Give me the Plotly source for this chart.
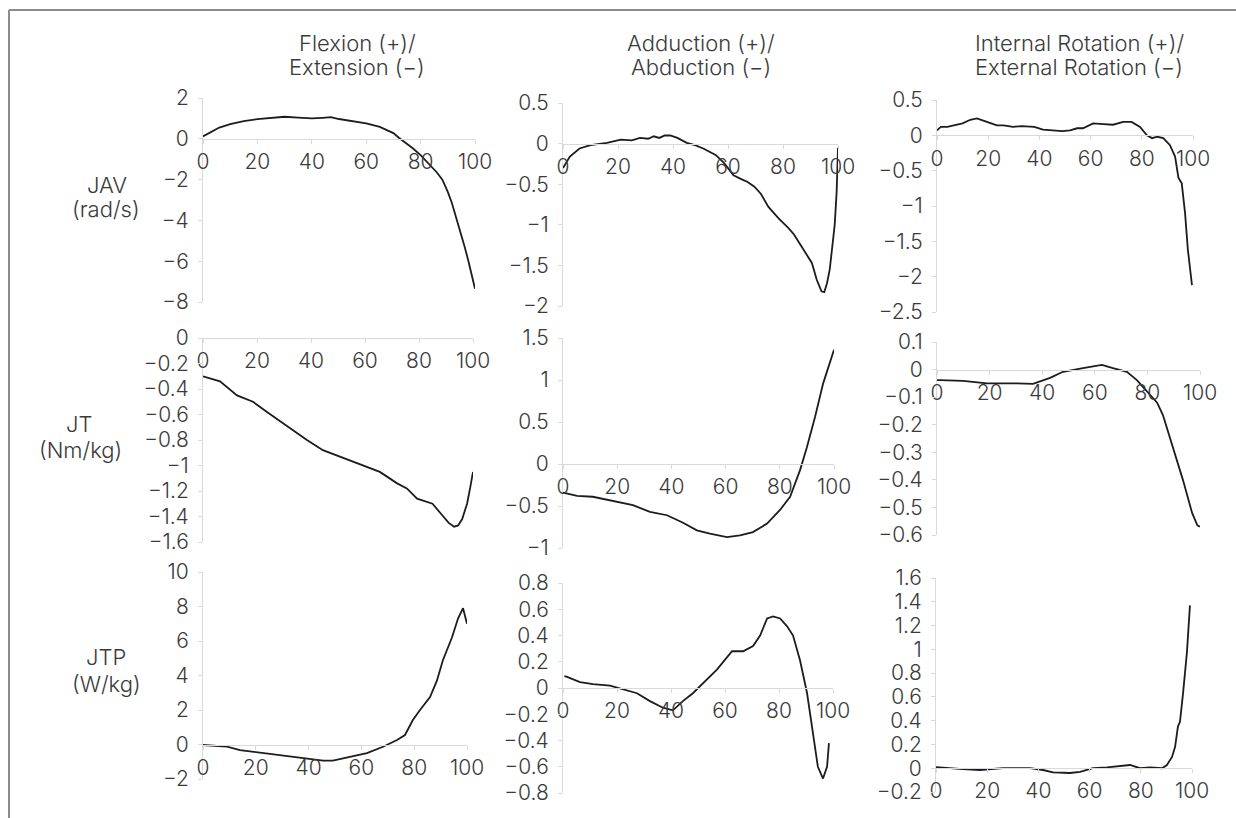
import plotly.graph_objects as go

W, H = 1236, 818

# ---------------- data ----------------
COL_TITLES = [["Flexion (+)/", "Extension (−)"],
              ["Adduction (+)/", "Abduction (−)"],
              ["Internal Rotation (+)/", "External Rotation (−)"]]
ROW_TITLES = [["JAV", "(rad/s)"], ["JT", "(Nm/kg)"], ["JTP", "(W/kg)"]]
X_TICKS = [0, 20, 40, 60, 80, 100]

# Row 1: joint angular velocity
JAV_FLEX_X = [0, 3, 6, 10, 15, 20, 25, 30, 35, 40, 44, 47, 50, 55, 60, 65, 70, 72, 75, 77, 80,
              83.5, 86, 88, 90, 91.5, 93, 94.5, 96, 97.5, 99, 100]
JAV_FLEX_Y = [0.12, 0.35, 0.55, 0.72, 0.87, 0.96, 1.02, 1.08, 1.04, 1.0, 1.03, 1.06, 0.97, 0.86,
              0.76, 0.58, 0.28, 0.05, -0.25, -0.45, -0.8, -1.28, -1.65, -2.0, -2.6, -3.15, -3.8,
              -4.5, -5.2, -5.95, -6.8, -7.35]

JAV_ADD_X = [0, 1, 2.5, 6, 10, 16, 21, 25, 28, 31, 33, 35, 37, 39, 41.6, 45, 48, 51, 55.5, 58.6,
             62, 65, 67, 69.6, 72, 74.7, 78.4, 82, 84, 86.8, 89, 90.5, 92.3, 94, 95, 96, 97,
             97.8, 98.8, 99.5, 100]
JAV_ADD_Y = [-0.3, -0.24, -0.16, -0.06, -0.02, 0.01, 0.05, 0.04, 0.07, 0.06, 0.09, 0.07, 0.1, 0.1,
             0.07, 0.01, -0.02, -0.06, -0.14, -0.24, -0.39, -0.44, -0.47, -0.53, -0.62, -0.78,
             -0.92, -1.04, -1.12, -1.27, -1.38, -1.47, -1.68, -1.82, -1.83, -1.72, -1.55, -1.31,
             -1.0, -0.6, -0.05]

JAV_IR_X = [0, 1.5, 4, 7.8, 10, 13, 15.6, 19.5, 23.4, 26, 29.7, 33, 36, 38, 41.4, 45, 49, 52,
            54.7, 57, 61, 65, 68.8, 72.7, 76, 79.3, 82, 84, 86, 88.4, 91, 93, 94.3, 95.6, 96.9,
            98, 99.6]
JAV_IR_Y = [0.07, 0.12, 0.12, 0.15, 0.17, 0.22, 0.24, 0.19, 0.14, 0.14, 0.12, 0.13, 0.12, 0.12,
            0.08, 0.07, 0.06, 0.07, 0.1, 0.1, 0.17, 0.16, 0.15, 0.19, 0.19, 0.12, 0.0, -0.04,
            -0.02, -0.04, -0.14, -0.3, -0.6, -0.68, -1.1, -1.62, -2.12]

# Row 2: joint torque
JT_FLEX_X = [0, 6.3, 12.6, 18.5, 23.7, 32.2, 38.5, 44.4, 48, 54.4, 60.7, 65.5, 71.9, 75.5, 79.3,
             85, 89, 91, 93, 94.5, 96, 97.8, 99, 100]
JT_FLEX_Y = [-0.30, -0.34, -0.45, -0.5, -0.58, -0.71, -0.8, -0.88, -0.91, -0.96, -1.01, -1.05,
             -1.14, -1.18, -1.26, -1.3, -1.4, -1.45, -1.48, -1.47, -1.42, -1.3, -1.17, -1.05]

JT_ADD_X = [0, 5.2, 11, 17.3, 25.8, 32.1, 38.4, 44.3, 49.4, 54.2, 60.5, 65.3, 70.1, 75.3, 80,
            83.8, 87.5, 90, 93, 96, 99.6, 100]
JT_ADD_Y = [-0.34, -0.38, -0.39, -0.43, -0.49, -0.57, -0.61, -0.7, -0.79, -0.83, -0.87, -0.85,
            -0.81, -0.71, -0.55, -0.39, -0.07, 0.2, 0.56, 0.96, 1.33, 1.36]

JT_IR_X = [0, 1.1, 9.9, 19, 30.4, 36.5, 43, 47.9, 55.5, 59.3, 62.7, 66.9, 72.2, 76, 79.8, 83.7,
           85.9, 89.7, 93.5, 97, 99, 100]
JT_IR_Y = [-0.038, -0.038, -0.041, -0.05, -0.05, -0.052, -0.03, -0.008, 0.005, 0.01, 0.017,
           0.005, -0.008, -0.038, -0.08, -0.12, -0.165, -0.28, -0.4, -0.52, -0.565, -0.57]

# Row 3: joint torque power
JTP_FLEX_X = [0, 9.1, 14, 22.7, 33, 40.5, 45.5, 49.2, 55.7, 62.1, 68.2, 73.5, 76.5, 79.5, 82.2,
              86, 88.6, 90.9, 94.3, 96.6, 98.5, 100]
JTP_FLEX_Y = [-0.03, -0.12, -0.32, -0.5, -0.7, -0.85, -0.94, -0.94, -0.7, -0.5, -0.13, 0.26,
              0.55, 1.42, 2.0, 2.75, 3.7, 4.9, 6.2, 7.3, 7.9, 7.0]

JTP_ADD_X = [0.5, 1.5, 6.3, 11.1, 17.4, 23.7, 27.4, 32.2, 37, 40.7, 44.4, 48.1, 51.9, 57, 62.6,
             66.7, 70.4, 73, 75.6, 77.8, 80.4, 83, 85.2, 87.8, 90.4, 92.6, 94.4, 96.3, 97.8, 98.5]
JTP_ADD_Y = [0.09, 0.085, 0.045, 0.03, 0.018, -0.015, -0.04, -0.1, -0.15, -0.17, -0.1, -0.04,
             0.04, 0.14, 0.28, 0.28, 0.32, 0.4, 0.53, 0.545, 0.53, 0.47, 0.4, 0.21, -0.04, -0.37,
             -0.6, -0.69, -0.6, -0.42]

JTP_IR_X = [0, 1.6, 10.5, 17.2, 26.2, 36.7, 41.8, 45.7, 52.3, 56.3, 61.3, 66.8, 71.9, 75.8, 79.7,
            83.6, 88.3, 90.2, 92.2, 93.4, 94.5, 95.3, 96.5, 98, 99.2]
JTP_IR_Y = [0.01, 0.007, -0.007, -0.015, 0.0, 0.0, -0.015, -0.035, -0.04, -0.03, 0.0, 0.007,
            0.018, 0.027, 0.0, 0.007, 0.0, 0.027, 0.095, 0.18, 0.35, 0.39, 0.63, 0.97, 1.37]

SERIES = [(JAV_FLEX_X, JAV_FLEX_Y), (JAV_ADD_X, JAV_ADD_Y), (JAV_IR_X, JAV_IR_Y),
          (JT_FLEX_X, JT_FLEX_Y), (JT_ADD_X, JT_ADD_Y), (JT_IR_X, JT_IR_Y),
          (JTP_FLEX_X, JTP_FLEX_Y), (JTP_ADD_X, JTP_ADD_Y), (JTP_IR_X, JTP_IR_Y)]

# y-axis scales: (min, max, step)
Y_SCALES = [(-8, 2, 2), (-2, 0.5, 0.5), (-2.5, 0.5, 0.5),
            (-1.6, 0, 0.2), (-1, 1.5, 0.5), (-0.6, 0.1, 0.1),
            (-2, 10, 2), (-0.8, 0.8, 0.2), (-0.2, 1.6, 0.2)]

# ---------------- layout (pixel boxes of each plot area) ----------------
BOXES = [(203, 475, 98, 302), (563, 838, 103, 306), (937, 1193, 100, 312),
         (203, 473, 338, 542), (563, 834, 338, 548), (937, 1200, 342, 535),
         (203, 467, 572, 779), (563, 833, 583, 793), (936, 1192, 578, 792)]

FONT = "Inter, Noto Sans, sans-serif"
TXT = "#3a3a3a"
AXC = "#d9d9d9"
TICK_FS = 21
LABEL_FS = 22


def tfont(size):
    return dict(family=FONT, size=size, color=TXT, weight=300)


fig = go.Figure()
layout = dict(width=W, height=H, autosize=False, margin=dict(l=0, r=0, t=0, b=0, pad=0),
              paper_bgcolor="white", plot_bgcolor="white", showlegend=False,
              font=tfont(TICK_FS))

for i, ((xs, ys), (ymin, ymax, step), (x0, x1, y0, y1)) in enumerate(zip(SERIES, Y_SCALES, BOXES), start=1):
    sfx = "" if i == 1 else str(i)
    fig.add_trace(go.Scatter(x=xs, y=ys, mode="lines", xaxis="x" + sfx, yaxis="y" + sfx,
                             line=dict(color="#1c1c1c", width=1.8), hoverinfo="skip",
                             showlegend=False))
    dx = [x0 / W, x1 / W]
    dy = [1 - y1 / H, 1 - y0 / H]
    zero_pos = dy[0] + (0 - ymin) / (ymax - ymin) * (dy[1] - dy[0])
    layout["xaxis" + sfx] = dict(domain=dx, range=[0, 100], anchor="free", position=zero_pos,
                                 tickvals=X_TICKS, showline=True, linecolor=AXC, linewidth=1,
                                 ticks="outside", ticklen=4, tickcolor=AXC, showgrid=False,
                                 zeroline=False, ticklabelstandoff=0, automargin=False,
                                 tickfont=tfont(TICK_FS))
    layout["yaxis" + sfx] = dict(domain=dy, range=[ymin, ymax], anchor="x" + sfx, tick0=0,
                                 dtick=step, showline=True, linecolor=AXC, linewidth=1,
                                 ticks="outside", ticklen=4, tickcolor=AXC, showgrid=False,
                                 zeroline=False, ticklabelstandoff=5, automargin=False,
                                 tickfont=tfont(TICK_FS))

annotations = []
COL_X = [357, 701, 1079]
for cx, (l1, l2) in zip(COL_X, COL_TITLES):
    for text, cy in ((l1, 43), (l2, 67)):
        annotations.append(dict(text=text, x=cx / W, y=1 - cy / H, xref="paper", yref="paper",
                                xanchor="center", yanchor="middle", showarrow=False,
                                font=tfont(LABEL_FS)))
ROW_POS = [((107, 185), (106, 209)), ((79, 424), (80, 450)), ((106, 657), (106, 684))]
for (p1, p2), (l1, l2) in zip(ROW_POS, ROW_TITLES):
    for text, (cx, cy) in ((l1, p1), (l2, p2)):
        annotations.append(dict(text=text, x=cx / W, y=1 - cy / H, xref="paper", yref="paper",
                                xanchor="center", yanchor="middle", showarrow=False,
                                font=tfont(LABEL_FS)))
layout["annotations"] = annotations

layout["shapes"] = [
    dict(type="line", xref="paper", yref="paper", x0=9 / W, x1=1, y0=1 - 10 / H, y1=1 - 10 / H,
         line=dict(color="#8c8c8c", width=2)),
    dict(type="line", xref="paper", yref="paper", x0=9 / W, x1=9 / W, y0=0, y1=1 - 10 / H,
         line=dict(color="#8c8c8c", width=2)),
]

fig.update_layout(**layout)
fig.write_html("out.html", config={"displayModeBar": False, "staticPlot": True},
               post_script="document.body.style.margin='0';document.body.style.overflow='hidden';")
